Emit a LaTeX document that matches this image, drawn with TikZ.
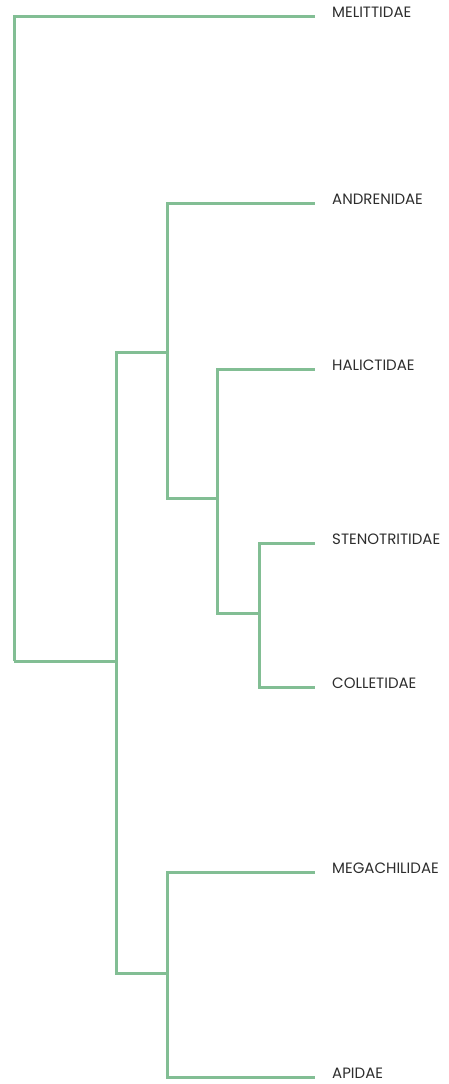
\documentclass[tikz,border=0pt]{standalone}
\usepackage{fontspec}
\setmainfont{Poppins}
\definecolor{branch}{RGB}{130,190,148}
\definecolor{labeltext}{RGB}{45,45,45}
\begin{document}
\begin{tikzpicture}[x=1pt,y=-1pt,
  edge/.style={draw=branch,line width=3pt,line join=miter},
  taxon/.style={anchor=base west,inner sep=0pt,text=labeltext,font=\fontsize{15}{17}\selectfont}]
\useasboundingbox (0,0) rectangle (449,1084);
% internal nodes
\coordinate (root) at (14,661);
\coordinate (n1) at (116,661);
\coordinate (n2) at (167,352);
\coordinate (n3) at (217,498);
\coordinate (n4) at (259,613);
\coordinate (n5) at (167,973);
% leaf ends
\coordinate (mel) at (315,16);
\coordinate (and) at (315,203);
\coordinate (hal) at (315,369);
\coordinate (ste) at (315,543);
\coordinate (col) at (315,687);
\coordinate (meg) at (315,872);
\coordinate (api) at (315,1077);
% labels
\node[taxon] (lmel) at (332,17) {MELITTIDAE};
\node[taxon] (land) at (332,204) {ANDRENIDAE};
\node[taxon] (lhal) at (332,370) {HALICTIDAE};
\node[taxon] (lste) at (332,544) {STENOTRITIDAE};
\node[taxon] (lcol) at (332,688) {COLLETIDAE};
\node[taxon] (lmeg) at (332,873) {MEGACHILIDAE};
\node[taxon] (lapi) at (332,1078) {APIDAE};
% branches
\path[edge] (root) |- (mel);
\path[edge] (root) -- (n1);
\path[edge] (n1) |- (n2);
\path[edge] (n1) |- (n5);
\path[edge] (n2) |- (and);
\path[edge] (n2) |- (n3);
\path[edge] (n3) |- (hal);
\path[edge] (n3) |- (n4);
\path[edge] (n4) |- (ste);
\path[edge] (n4) |- (col);
\path[edge] (n5) |- (meg);
\path[edge] (n5) |- (api);
\end{tikzpicture}
\end{document}
